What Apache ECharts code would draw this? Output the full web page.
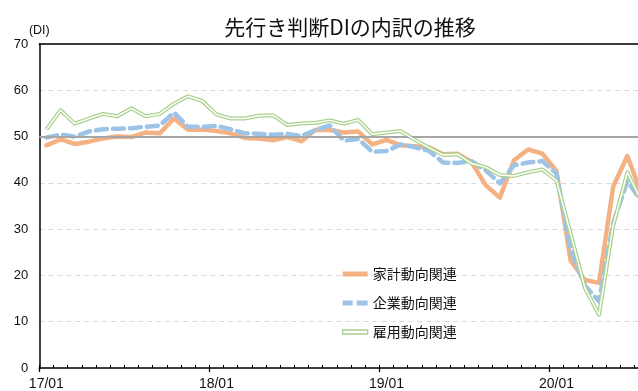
<!DOCTYPE html>
<html>
<head>
<meta charset="utf-8">
<script src="https://cdn.jsdelivr.net/npm/echarts@6/dist/echarts.min.js"></script>
<style>
  html, body { margin: 0; padding: 0; background: #fff; overflow: hidden; width: 638px; height: 391px; }
  /* the plot runs on past the right edge of the page, as in a cut-off chart */
  #chart { width: 660px; height: 391px; }
</style>
</head>
<body>
<div id="chart"></div>
<script>
// Months on the category axis (yy/mm)
const months = [
  '17/01','17/02','17/03','17/04','17/05','17/06','17/07','17/08','17/09','17/10','17/11','17/12',
  '18/01','18/02','18/03','18/04','18/05','18/06','18/07','18/08','18/09','18/10','18/11','18/12',
  '19/01','19/02','19/03','19/04','19/05','19/06','19/07','19/08','19/09','19/10','19/11','19/12',
  '20/01','20/02','20/03','20/04','20/05','20/06','20/07'
];

// 家計動向関連
const household = [
  48.1, 49.4, 48.4, 48.9, 49.6, 50.0, 49.9, 50.9, 50.7, 53.9, 51.5, 51.5,
  51.2, 50.7, 49.7, 49.6, 49.2, 49.9, 49.0, 51.5, 51.4, 50.9, 51.1, 48.3,
  49.3, 48.1, 47.9, 47.7, 46.2, 46.3, 44.5, 39.5, 36.8, 44.9, 47.2, 46.3,
  42.5, 23.2, 19.0, 18.4, 39.2, 45.8, 37.6
];

// 企業動向関連
const corporate = [
  49.8, 50.4, 50.0, 51.1, 51.6, 51.7, 51.8, 52.1, 52.4, 55.2, 52.1, 52.1,
  52.3, 51.6, 50.7, 50.6, 50.4, 50.6, 50.1, 51.4, 52.4, 49.1, 49.5, 46.7,
  46.9, 48.3, 47.7, 46.9, 44.4, 44.3, 44.7, 42.7, 39.9, 43.8, 44.4, 44.7,
  42.0, 25.5, 17.8, 14.4, 31.3, 40.4, 36.0
];

// 雇用動向関連
const employment = [
  51.5, 55.7, 52.8, 53.9, 54.9, 54.4, 56.1, 54.4, 54.9, 57.1, 58.7, 57.7,
  54.8, 53.9, 53.9, 54.5, 54.6, 52.5, 52.8, 53.0, 53.5, 52.8, 53.6, 50.5,
  50.9, 51.2, 49.3, 47.6, 46.0, 46.2, 44.2, 43.4, 41.7, 41.5, 42.3, 42.9,
  40.5, 29.0, 17.3, 11.5, 30.8, 42.3, 36.0
];

const yTicks = { min: 0, max: 70, step: 10 };
const baseline = 50;

const COLORS = { household: '#F4B183', corporate: '#9DC3E6', employment: '#A9D18E' };
const JP_FONT = '"Noto Sans CJK JP", "Noto Sans", sans-serif';
const NUM_FONT = '"Liberation Sans", Arial, sans-serif';

const chart = echarts.init(document.getElementById('chart'), null, { renderer: 'canvas' });

const BAND = 14.17;
const gridLeft = 39.3;

chart.setOption({
  animation: false,
  backgroundColor: '#ffffff',
  title: {
    text: '先行き判断DIの内訳の推移',
    left: 345,
    top: 12,
    textAlign: 'center',
    textStyle: { fontFamily: JP_FONT, fontSize: 21, fontWeight: 'normal', color: '#111' }
  },
  legend: {
    orient: 'vertical',
    left: 342,
    top: 266,
    padding: 0,
    itemWidth: 25,
    itemHeight: 14,
    itemGap: 13,
    textStyle: { fontFamily: JP_FONT, fontSize: 14, color: '#111', lineHeight: 16 },
    data: [
      { name: '家計動向関連', icon: 'path://M0,0H25V5H0Z',
        itemStyle: { color: COLORS.household, borderWidth: 0 } },
      { name: '企業動向関連', icon: 'path://M0,0H10V5H0Z M14,0H25V5H14Z',
        itemStyle: { color: COLORS.corporate, borderWidth: 0 } },
      { name: '雇用動向関連', icon: 'path://M0,0H25V4H0Z',
        itemStyle: { color: '#ffffff', borderColor: COLORS.employment, borderWidth: 1.3 } }
    ]
  },
  grid: {
    left: gridLeft,
    top: 44,
    width: BAND * months.length,
    height: 327.5,
    containLabel: false
  },
  xAxis: [
    {
      type: 'category',
      data: months,
      position: 'bottom',
      boundaryGap: true,
      axisLine: { show: true, lineStyle: { color: '#000', width: 1.5 } },
      axisTick: {
        show: true,
        interval: (i) => i % 12 === 0,
        length: 4,
        lineStyle: { color: '#000', width: 1.3 }
      },
      axisLabel: {
        interval: (i) => i % 12 === 0,
        margin: 9,
        fontFamily: NUM_FONT,
        fontSize: 14,
        color: '#111'
      },
      splitLine: { show: false }
    },
    {
      type: 'category',
      data: months,
      position: 'bottom',
      boundaryGap: true,
      axisLine: { show: false },
      axisTick: {
        show: true,
        interval: 0,
        inside: true,
        length: 3,
        lineStyle: { color: '#000', width: 1 }
      },
      axisLabel: { show: false },
      splitLine: { show: false }
    },
    {
      type: 'category',
      data: months,
      position: 'top',
      boundaryGap: true,
      axisLine: { show: true, lineStyle: { color: '#000', width: 1.5 } },
      axisTick: { show: false },
      axisLabel: { show: false },
      splitLine: { show: false }
    }
  ],
  yAxis: {
    type: 'value',
    min: yTicks.min,
    max: yTicks.max,
    interval: yTicks.step,
    name: '(DI)',
    nameLocation: 'end',
    nameGap: 7,
    nameTextStyle: { fontFamily: NUM_FONT, fontSize: 12.5, color: '#111' },
    axisLine: { show: true, lineStyle: { color: '#000', width: 1.5 } },
    axisTick: { show: false },
    axisLabel: { margin: 11, fontFamily: NUM_FONT, fontSize: 13, color: '#111' },
    splitLine: { show: true, lineStyle: { color: '#d9d9d9', width: 1, type: [5, 4] } }
  },
  series: [
    {
      name: '家計動向関連',
      type: 'line',
      data: household,
      symbol: 'none',
      lineStyle: { color: COLORS.household, width: 4.5, join: 'round', cap: 'round' },
      itemStyle: { color: COLORS.household },
      markLine: {
        silent: true,
        symbol: 'none',
        label: { show: false },
        lineStyle: { color: '#a6a6a6', width: 2, type: 'solid' },
        data: [{ yAxis: baseline }]
      },
      z: 2
    },
    {
      name: '企業動向関連',
      type: 'line',
      data: corporate,
      symbol: 'none',
      lineStyle: { color: COLORS.corporate, width: 4.5, type: [11, 6], cap: 'round', join: 'round' },
      itemStyle: { color: COLORS.corporate },
      z: 3
    },
    {
      name: '雇用動向関連',
      type: 'line',
      data: employment,
      symbol: 'none',
      lineStyle: { color: COLORS.employment, width: 4, join: 'round' },
      itemStyle: { color: COLORS.employment },
      z: 4
    },
    {
      // white core that turns the employment line into a double line
      name: 'employment-core',
      type: 'line',
      data: employment,
      symbol: 'none',
      silent: true,
      lineStyle: { color: '#ffffff', width: 1.5, join: 'round' },
      itemStyle: { color: '#ffffff' },
      z: 5
    }
  ]
});
</script>
</body>
</html>
